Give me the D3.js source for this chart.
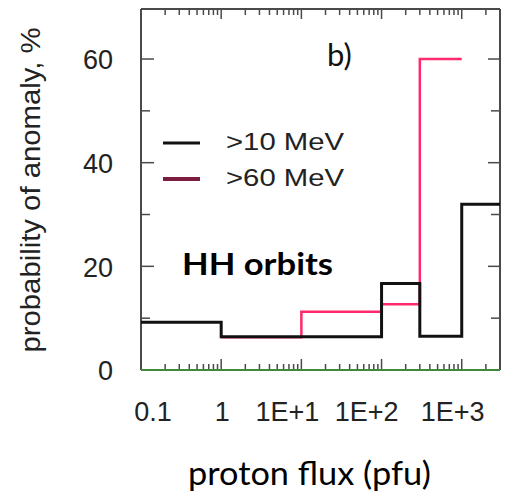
<!DOCTYPE html>
<html><head><meta charset="utf-8">
<script src="https://cdn.jsdelivr.net/npm/d3@7"></script>
<style>body{margin:0;background:#fff}svg{display:block}</style>
</head><body>
<script>
// ---- data ----
const xTickValues = [0.1, 1, 10, 100, 1000];
const xTickLabels = ["0.1", "1", "1E+1", "1E+2", "1E+3"];
const yTickValues = [0, 20, 40, 60];
const yTickLabels = ["0", "20", "40", "60"];
const seriesNames = [">10 MeV", ">60 MeV"];
const edges10 = [0.1, 1, 100, 300, 1000, 3000];
const values10 = [9.2, 6.4, 16.7, 6.5, 32.0];
const edges60 = [1, 10, 100, 300, 1000];
const values60 = [6.3, 11.25, 12.7, 60];

const W = 510, H = 498;
const L = 141, R = 500, T = 9, B = 370;
const svg = d3.select("body").append("svg").attr("width", W).attr("height", H);

const x = d3.scaleLog().domain([0.1, 3000]).range([L, R]);
const y = d3.scaleLinear().domain([0, 69.65]).range([B, T]);

// minor ticks for log axis
const minor = [];
for (let e = -1; e <= 3; e++) for (let m = 1; m <= 9; m++) { const v = m * Math.pow(10, e); if (v >= 0.1 && v <= 3000) minor.push(v); }
const isDecade = d => Math.abs(Math.log10(d) - Math.round(Math.log10(d))) < 1e-9;

const frameColor = "#4a4a4a";
svg.append("g").selectAll("line").data(minor).join("line")
  .attr("x1", d => x(d)).attr("x2", d => x(d))
  .attr("y1", T).attr("y2", d => T + (isDecade(d) ? 10 : 6))
  .attr("stroke", frameColor).attr("stroke-width", 1.5);
svg.append("g").selectAll("line").data(minor).join("line")
  .attr("x1", d => x(d)).attr("x2", d => x(d))
  .attr("y1", B).attr("y2", d => B - (isDecade(d) ? 11 : 6))
  .attr("stroke", frameColor).attr("stroke-width", 1.5);
const yT = d3.range(0, 70, 10);
svg.append("g").selectAll("line").data(yT).join("line")
  .attr("x1", L).attr("x2", d => L + (d % 20 === 0 ? 13 : 9))
  .attr("y1", d => y(d)).attr("y2", d => y(d))
  .attr("stroke", frameColor).attr("stroke-width", 1.5);
svg.append("g").selectAll("line").data(yT).join("line")
  .attr("x1", R).attr("x2", d => R - (d % 20 === 0 ? 12 : 9))
  .attr("y1", d => y(d)).attr("y2", d => y(d))
  .attr("stroke", frameColor).attr("stroke-width", 1.5);

// frame
svg.append("line").attr("x1", L).attr("x2", L).attr("y1", T).attr("y2", B).attr("stroke", frameColor).attr("stroke-width", 2);
svg.append("line").attr("x1", R).attr("x2", R).attr("y1", T).attr("y2", B).attr("stroke", frameColor).attr("stroke-width", 2);
svg.append("line").attr("x1", L).attr("x2", R).attr("y1", T).attr("y2", T).attr("stroke", frameColor).attr("stroke-width", 2);
svg.append("line").attr("x1", L).attr("x2", R).attr("y1", B).attr("y2", B).attr("stroke", "#3f8a3a").attr("stroke-width", 2);

// step lines
function stepPts(edges, vals) {
  const pts = vals.map((v, i) => [edges[i], v]);
  pts.push([edges[edges.length - 1], vals[vals.length - 1]]);
  return pts;
}
const line = d3.line().x(d => x(d[0])).y(d => y(d[1])).curve(d3.curveStepAfter);
svg.append("path").attr("d", line(stepPts(edges60, values60)))
  .attr("fill", "none").attr("stroke", "#ff2a6d").attr("stroke-width", 2.5);
svg.append("path").attr("d", line(stepPts(edges10, values10)))
  .attr("fill", "none").attr("stroke", "#111").attr("stroke-width", 3);

// tick labels
const nudge = [12, 1, -14, -15, -9];
svg.append("g").selectAll("text").data(xTickValues).join("text")
  .attr("x", (d, i) => x(d) + nudge[i]).attr("y", 421)
  .attr("text-anchor", "middle")
  .attr("font-family", "Liberation Sans, Arial, sans-serif").attr("font-size", 27).attr("fill", "#222")
  .text((d, i) => xTickLabels[i]);
svg.append("g").selectAll("text").data(yTickValues).join("text")
  .attr("x", 113).attr("y", d => y(d) + 1).attr("dy", "0.35em")
  .attr("text-anchor", "end")
  .attr("font-family", "Liberation Sans, Arial, sans-serif").attr("font-size", 27).attr("fill", "#222")
  .text((d, i) => yTickLabels[i]);

// y title
svg.append("text").attr("transform", "translate(40,190) rotate(-90)")
  .attr("text-anchor", "middle")
  .attr("font-family", "Liberation Sans, Arial, sans-serif").attr("font-size", 27).attr("fill", "#222")
  .attr("textLength", 325).attr("lengthAdjust", "spacingAndGlyphs")
  .text("probability of anomaly, %");

// x title
svg.append("text").attr("x", 188).attr("y", 485)
  .attr("font-family", "Lato, sans-serif").attr("font-size", 33).attr("fill", "#000")
  .attr("textLength", 243).attr("lengthAdjust", "spacingAndGlyphs")
  .text("proton flux (pfu)");

// panel label
svg.append("text").attr("x", 327).attr("y", 66)
  .attr("font-family", "Lato, sans-serif").attr("font-size", 31).attr("fill", "#111")
  .text("b)");

// HH orbits
svg.append("text").attr("x", 182).attr("y", 275)
  .attr("font-family", "Lato, sans-serif").attr("font-weight", "bold").attr("font-size", 30).attr("fill", "#000")
  .attr("textLength", 151).attr("lengthAdjust", "spacingAndGlyphs")
  .text("HH orbits");

// legend
const legColors = ["#111", "#7b1c40"];
const legY = [143, 179];
const leg = svg.append("g");
seriesNames.forEach((name, i) => {
  leg.append("line").attr("x1", 163).attr("x2", 200).attr("y1", legY[i]).attr("y2", legY[i])
    .attr("stroke", legColors[i]).attr("stroke-width", i === 0 ? 3 : 4);
  leg.append("text").attr("x", 226).attr("y", legY[i] + 7)
    .attr("font-family", "Liberation Sans, Arial, sans-serif").attr("font-size", 24).attr("fill", "#222")
    .attr("textLength", 118).attr("lengthAdjust", "spacingAndGlyphs")
    .text(name);
});
</script>
</body></html>
